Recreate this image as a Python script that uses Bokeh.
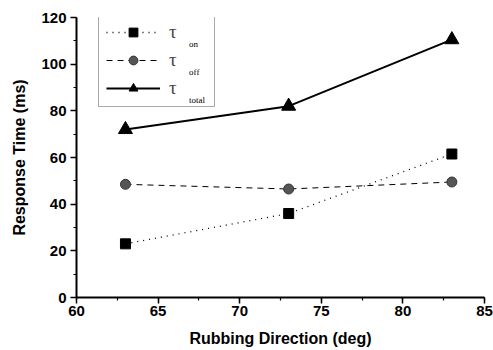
from bokeh.plotting import figure
from bokeh.models import Legend, LegendItem, Label, Range1d, SingleIntervalTicker
from bokeh.embed import file_html
from bokeh.resources import INLINE

# data
direction = [63, 73, 83]
tau_on = [23.0, 36.0, 61.5]
tau_off = [48.5, 46.5, 49.5]
tau_total = [72.0, 82.0, 110.5]
sub_labels = ["on", "off", "total"]
sub_x = [66.9, 66.9, 66.9]
sub_y = [108.5, 96.5, 84.5]

p = figure(width=493, height=350, output_backend="svg", toolbar_location=None,
           x_range=Range1d(60, 85), y_range=Range1d(0, 120),
           min_border_left=76, min_border_right=9, min_border_top=17, min_border_bottom=53)
p.outline_line_color = None
p.xgrid.visible = False
p.ygrid.visible = False
p.background_fill_color = "white"

for ax in (p.xaxis[0], p.yaxis[0]):
    ax.axis_line_width = 2
    ax.axis_line_color = "black"
    ax.major_tick_line_width = 1.5
    ax.minor_tick_line_width = 1.2
    ax.major_tick_out = 6
    ax.major_tick_in = 0
    ax.minor_tick_out = 3
    ax.minor_tick_in = 0
    ax.major_label_text_font = "Liberation Sans"
    ax.major_label_text_font_style = "bold"
    ax.major_label_text_font_size = "15px"
    ax.major_label_text_color = "black"
    ax.axis_label_text_font = "Liberation Sans"
    ax.axis_label_text_font_style = "bold"
    ax.axis_label_text_font_size = "16px"
    ax.axis_label_text_color = "black"

p.xaxis.ticker = SingleIntervalTicker(interval=5, num_minor_ticks=2)
p.yaxis.ticker = SingleIntervalTicker(interval=20, num_minor_ticks=2)
p.xaxis.axis_label = "Rubbing Direction (deg)"
p.yaxis.axis_label = "Response Time (ms)"
p.xaxis.major_label_standoff = 2
p.xaxis.axis_label_standoff = 11
p.yaxis.major_label_standoff = 4
p.yaxis.axis_label_standoff = 10

l1 = p.line(direction, tau_on, line_color="black", line_width=1.3, line_dash="1 5")
s1 = p.scatter(direction, tau_on, marker="square", size=10, fill_color="black", line_color="black")
l2 = p.line(direction, tau_off, line_color="black", line_width=1, line_dash="6 5")
s2 = p.scatter(direction, tau_off, marker="circle", size=10, fill_color="#555555", line_color="#333333")
l3 = p.line(direction, tau_total, line_color="black", line_width=2)
s3 = p.scatter(direction, tau_total, marker="triangle", size=14, fill_color="black", line_color="black")

legend = Legend(items=[LegendItem(label="τ", renderers=[l1, s1]),
                       LegendItem(label="τ", renderers=[l2, s2]),
                       LegendItem(label="τ", renderers=[l3, s3])],
                location=(22, 190), orientation="vertical",
                glyph_width=54, glyph_height=22, spacing=6, padding=7,
                label_standoff=9, label_width=38,
                label_text_font="Liberation Serif", label_text_font_size="19px",
                border_line_color="#555555", border_line_width=1,
                background_fill_alpha=0)
p.add_layout(legend, "center")

for sx, sy, s in zip(sub_x, sub_y, sub_labels):
    p.add_layout(Label(x=sx, y=sy, text=s, text_font="Liberation Serif",
                       text_font_size="9px", text_baseline="middle",
                       text_color="black", level="overlay"))

open("out.html", "w").write(file_html(p, INLINE))
